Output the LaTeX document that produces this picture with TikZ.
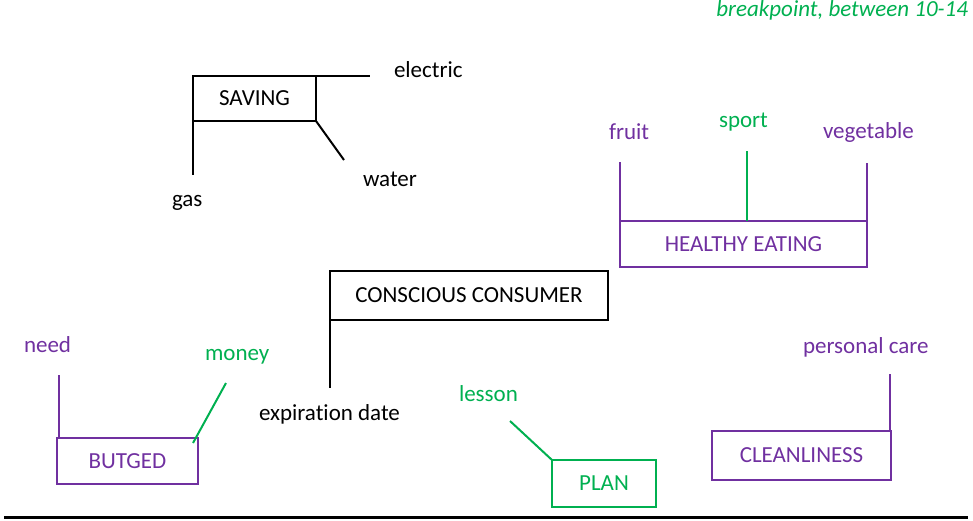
\documentclass[tikz,border=0pt]{standalone}
\usepackage{fontspec}
\setmainfont{Carlito}[Ligatures=NoCommon]
\definecolor{vio}{HTML}{7030A0}
\definecolor{grn}{HTML}{00B050}
\begin{document}
\begin{tikzpicture}[x=1pt,y=-1pt,
  every node/.style={font=\fontsize{23}{27}\selectfont, inner sep=0pt, outer sep=0pt},
  lbl/.style={anchor=base west},
  box/.style={draw, rectangle, line width=2pt},
  blk/.style={line width=2pt},
  vline/.style={line width=2pt, draw=vio},
  gline/.style={line width=2pt, draw=grn}]
\useasboundingbox (0,0) rectangle (973,521);

% header note
\node[anchor=base east, text=grn, font=\fontsize{23}{27}\selectfont\itshape] (note) at (968,17) {breakpoint, between 10-14};

% SAVING group
\node[box, minimum width=123pt, minimum height=45pt] (saving) at (254.5,98.5) {SAVING};
\node[lbl] (electric) at (394,78) {electric};
\node[lbl] (water) at (363,187) {water};
\node[lbl] (gas) at (172,207) {gas};
\coordinate (electricend) at (370,76);
\coordinate (waterend) at (344,160);
\coordinate (gasend) at (193,175);
\draw[blk] (saving.north east) -- (electricend);
\draw[blk] (saving.south east) -- (waterend);
\draw[blk] (saving.west) -- (gasend);

% HEALTHY EATING group
\node[box, draw=vio, text=vio, minimum width=247pt, minimum height=46pt] (healthy) at (743.5,244) {HEALTHY EATING};
\node[lbl, text=vio] (fruit) at (609,140) {fruit};
\node[lbl, text=grn] (sport) at (719,128) {sport};
\node[lbl, text=vio] (vegetable) at (823,139) {vegetable};
\coordinate (fruitend) at (620,162);
\coordinate (sportend) at (747,151);
\coordinate (vegend) at (867,163);
\draw[vline] (healthy.north west) -- (fruitend);
\draw[gline] (sportend |- healthy.north) -- (sportend);
\draw[vline] (healthy.north east) -- (vegend);

% CONSCIOUS CONSUMER group
\node[box, minimum width=278pt, minimum height=49pt] (consumer) at (469,295.5) {CONSCIOUS CONSUMER};
\node[lbl] (expiry) at (259,420) {expiration date};
\coordinate (expend) at (330,388);
\draw[blk] (consumer.south west) -- (expend);

% BUTGED group
\node[box, draw=vio, text=vio, minimum width=141pt, minimum height=46pt] (butged) at (127.5,461) {BUTGED};
\node[lbl, text=vio] (need) at (24,352) {need};
\node[lbl, text=grn] (money) at (205,360) {money};
\coordinate (needend) at (59,375);
\coordinate (moneyend) at (226,383);
\draw[vline] (needend |- butged.north) -- (needend);
\draw[gline] ([shift={(-5,5)}]butged.north east) -- (moneyend);

% PLAN group
\node[box, draw=grn, text=grn, minimum width=104pt, minimum height=47pt] (plan) at (604,483.5) {PLAN};
\node[lbl, text=grn] (lesson) at (459,401) {lesson};
\coordinate (lessonend) at (510,421);
\draw[gline] (plan.north west) -- (lessonend);

% CLEANLINESS group
\node[box, draw=vio, text=vio, minimum width=179pt, minimum height=49pt] (clean) at (801.5,455.5) {CLEANLINESS};
\node[lbl, text=vio] (care) at (803,353) {personal care};
\coordinate (careend) at (890,374);
\draw[vline] (careend |- clean.north) -- (careend);

% base rule
\coordinate (ruleL) at (4,517);
\coordinate (ruleR) at (968,517);
\draw[line width=3pt] (ruleL) -- (ruleR);
\end{tikzpicture}
\end{document}
